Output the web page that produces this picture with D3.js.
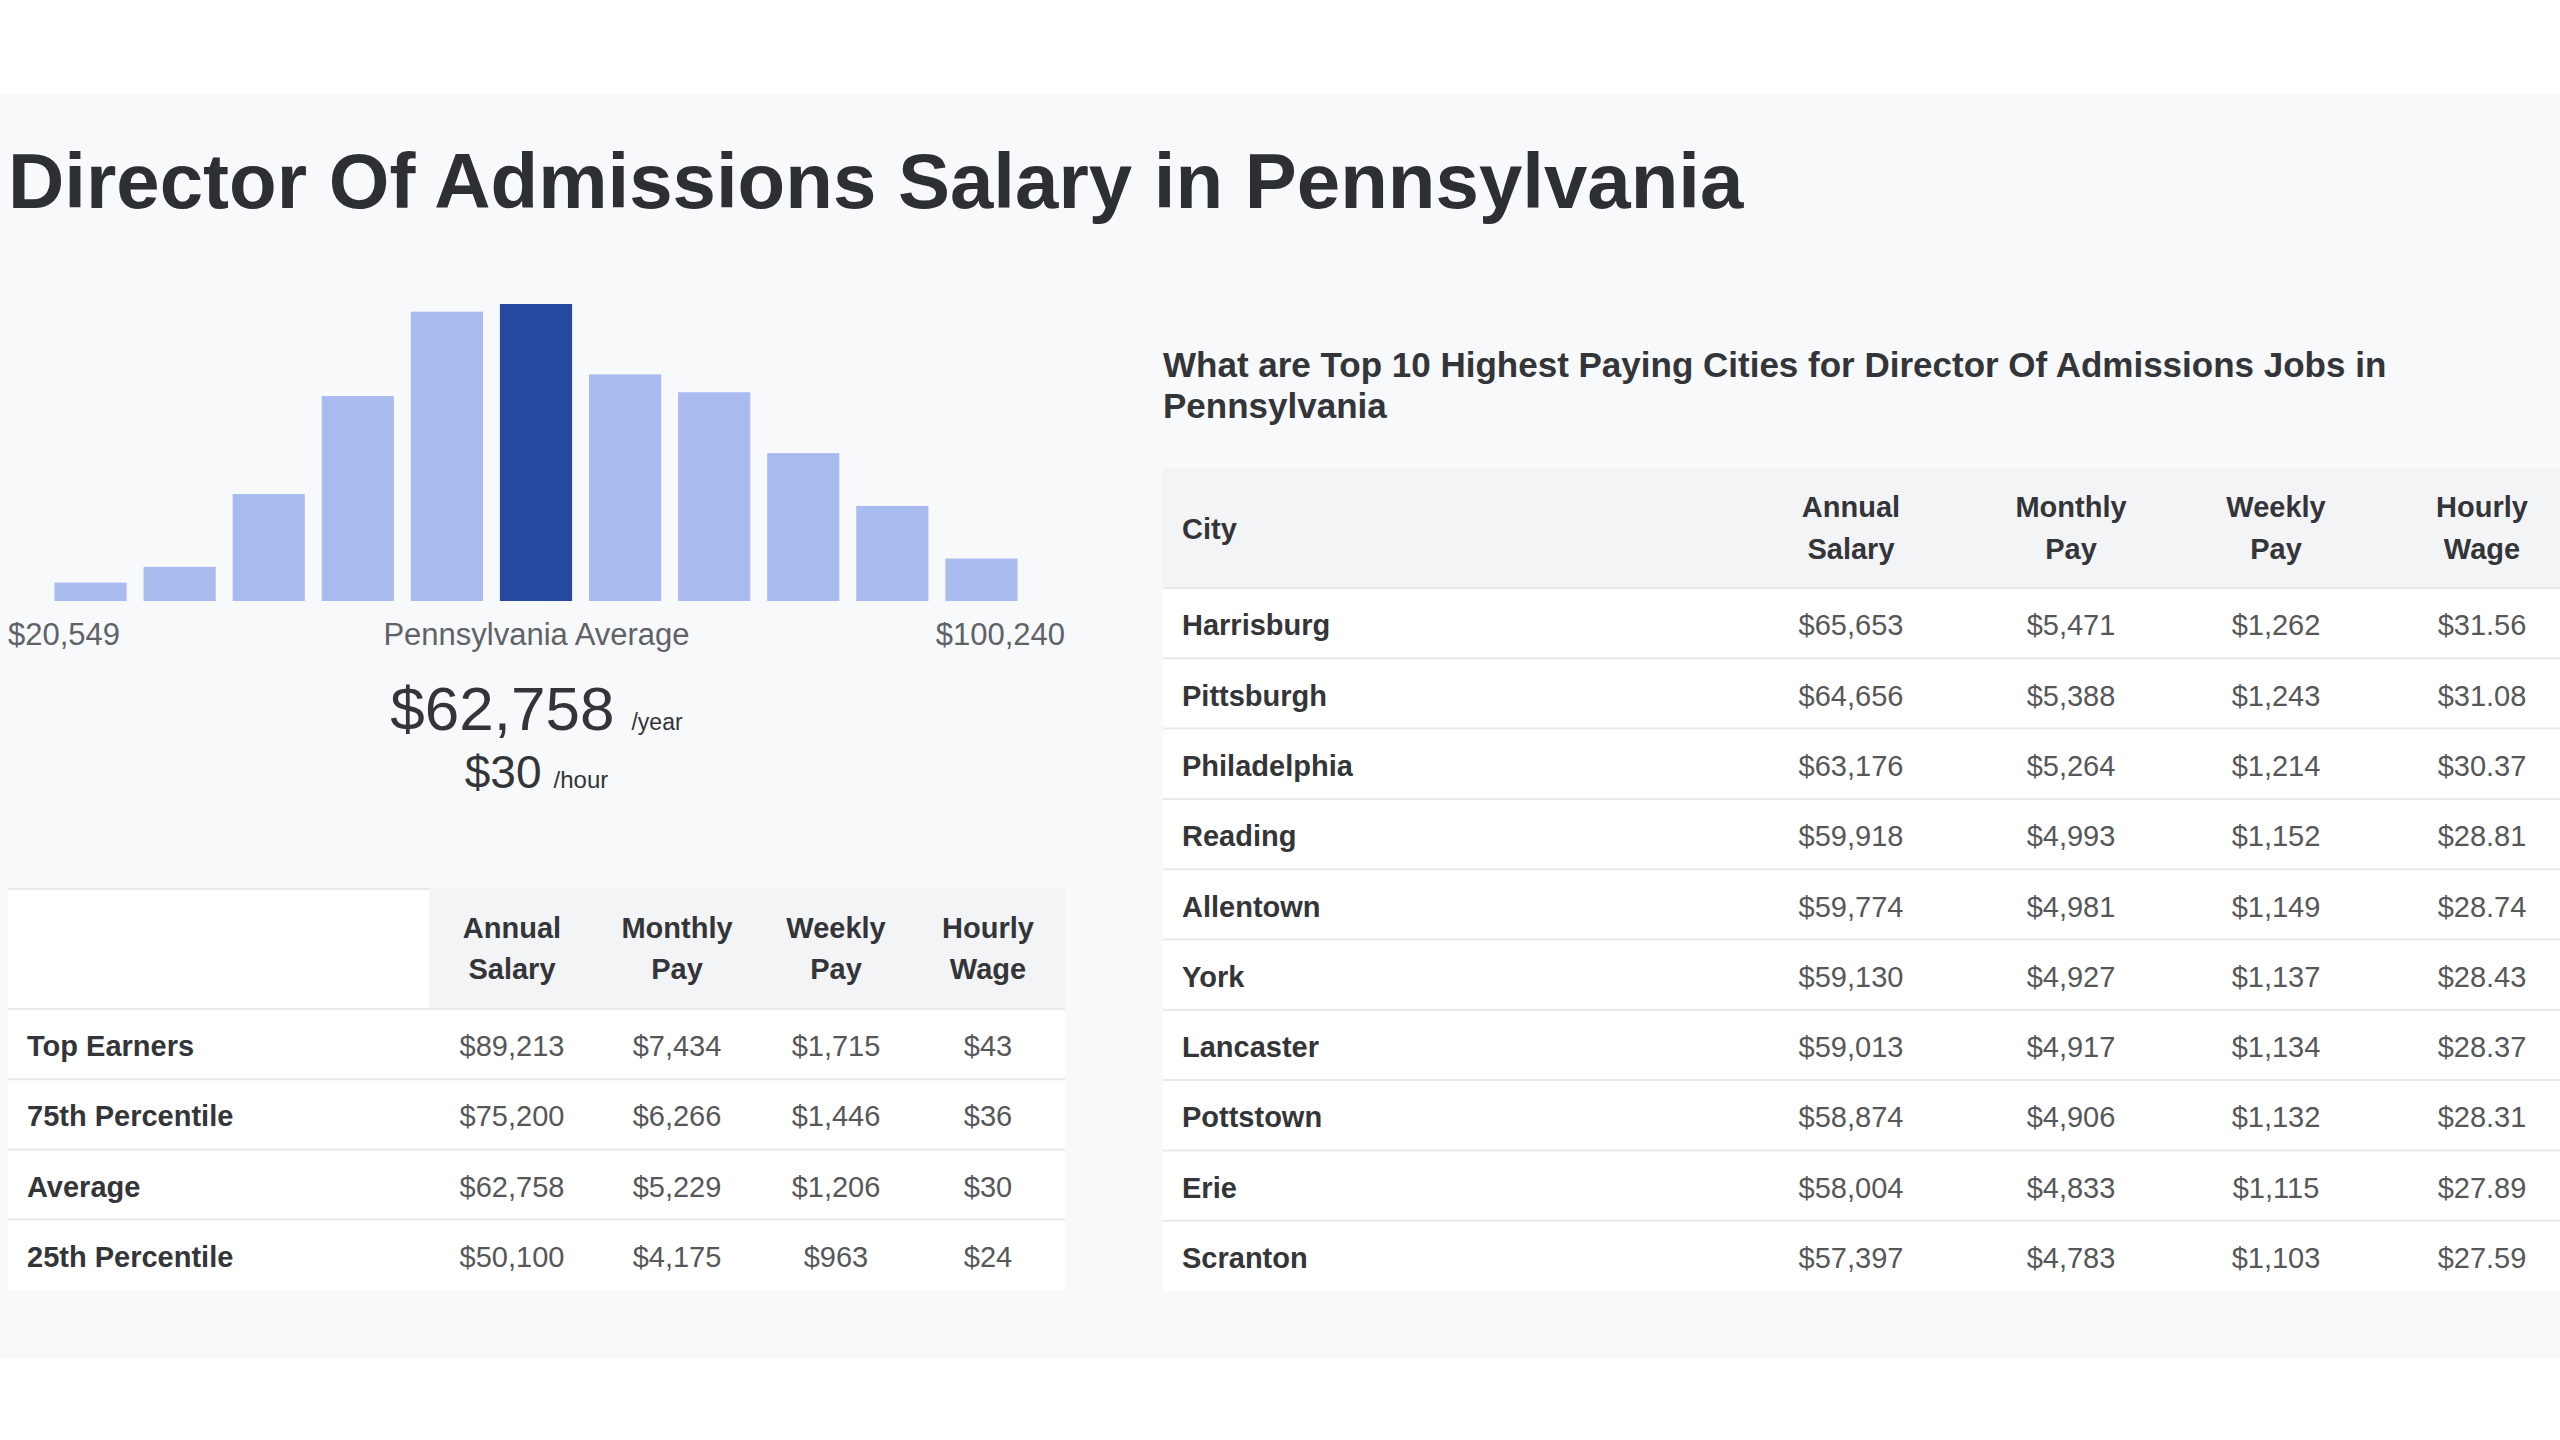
<!DOCTYPE html>
<html>
<head>
<meta charset="utf-8">
<script src="https://cdn.jsdelivr.net/npm/d3@7"></script>
<style>
  html, body { margin: 0; padding: 0; background: #ffffff; }
  svg { display: block; font-family: "Liberation Sans", Arial, Helvetica, sans-serif; }
</style>
</head>
<body>
<svg id="chart" width="2560" height="1440"></svg>
<script>
// ---------- DATA ----------
const pageTitle = "Director Of Admissions Salary in Pennsylvania";
const binValues = [6.2, 11.5, 36.0, 69.0, 97.4, 100, 76.3, 70.3, 49.8, 32.0, 14.3];
const highlightBin = 5;
const rangeMinLabel = "$20,549";
const rangeMaxLabel = "$100,240";
const averageLabel = "Pennsylvania Average";
const averageYear = "$62,758";
const averageHour = "$30";

const summaryHeaders = [["Annual", "Salary"], ["Monthly", "Pay"], ["Weekly", "Pay"], ["Hourly", "Wage"]];
const summaryLabels = ["Top Earners", "75th Percentile", "Average", "25th Percentile"];
const summaryAnnual = ["$89,213", "$75,200", "$62,758", "$50,100"];
const summaryMonthly = ["$7,434", "$6,266", "$5,229", "$4,175"];
const summaryWeekly = ["$1,715", "$1,446", "$1,206", "$963"];
const summaryHourly = ["$43", "$36", "$30", "$24"];

const citiesTitle = ["What are Top 10 Highest Paying Cities for Director Of Admissions Jobs in", "Pennsylvania"];
const cityHeaderFirst = "City";
const cityNames = ["Harrisburg", "Pittsburgh", "Philadelphia", "Reading", "Allentown", "York", "Lancaster", "Pottstown", "Erie", "Scranton"];
const cityAnnual = ["$65,653", "$64,656", "$63,176", "$59,918", "$59,774", "$59,130", "$59,013", "$58,874", "$58,004", "$57,397"];
const cityMonthly = ["$5,471", "$5,388", "$5,264", "$4,993", "$4,981", "$4,927", "$4,917", "$4,906", "$4,833", "$4,783"];
const cityWeekly = ["$1,262", "$1,243", "$1,214", "$1,152", "$1,149", "$1,137", "$1,134", "$1,132", "$1,115", "$1,103"];
const cityHourly = ["$31.56", "$31.08", "$30.37", "$28.81", "$28.74", "$28.43", "$28.37", "$28.31", "$27.89", "$27.59"];

// ---------- STYLE ----------
const C = {
  panel: "#f8f9fb", title: "#2c2f33", text: "#333538", value: "#555759", muted: "#5f6266",
  barLight: "#a9baef", barDark: "#2749a2", headBg: "#f3f4f6", line: "#e7e9ec", white: "#ffffff"
};

const svg = d3.select("#chart");

// page background panel
svg.append("rect").attr("x", 0).attr("y", 94).attr("width", 2560).attr("height", 1265).attr("fill", C.panel);

// title
svg.append("text").attr("x", 8).attr("y", 208)
  .attr("font-size", 78).attr("font-weight", 700).attr("fill", C.title)
  .text(pageTitle);

// ---------- HISTOGRAM ----------
const leftX0 = 8, leftX1 = 1065, leftMid = (leftX0 + leftX1) / 2;
const x = d3.scaleBand().domain(d3.range(binValues.length)).range([46, 1026])
  .paddingInner(0.19).paddingOuter(0.095);
const y = d3.scaleLinear().domain([0, d3.max(binValues)]).range([601, 304]);

svg.append("g").selectAll("rect").data(binValues).join("rect")
  .attr("x", (d, i) => x(i)).attr("width", x.bandwidth())
  .attr("y", d => y(d)).attr("height", d => y(0) - y(d))
  .attr("fill", (d, i) => i === highlightBin ? C.barDark : C.barLight);

svg.append("text").attr("x", leftX0).attr("y", 645).attr("font-size", 31).attr("fill", C.muted).text(rangeMinLabel);
svg.append("text").attr("x", leftX1).attr("y", 645).attr("font-size", 31).attr("fill", C.muted)
  .attr("text-anchor", "end").text(rangeMaxLabel);
svg.append("text").attr("x", leftMid).attr("y", 645).attr("font-size", 31).attr("fill", C.muted)
  .attr("text-anchor", "middle").text(averageLabel);

const avgY = svg.append("text").attr("x", leftMid).attr("y", 730).attr("text-anchor", "middle").attr("fill", C.text);
avgY.append("tspan").attr("font-size", 62).text(averageYear);
avgY.append("tspan").attr("font-size", 23).attr("dx", 17).text("/year");
const avgH = svg.append("text").attr("x", leftMid).attr("y", 788).attr("text-anchor", "middle").attr("fill", C.text);
avgH.append("tspan").attr("font-size", 46).text(averageHour);
avgH.append("tspan").attr("font-size", 24).attr("dx", 12).text("/hour");

// ---------- TABLE HELPER ----------
function drawTable(opts) {
  const g = svg.append("g");
  const fs = 29;
  const rows = d3.scaleBand().domain(d3.range(opts.labels.length))
    .range([opts.headTop + opts.headH, opts.headTop + opts.headH + opts.rowH * opts.labels.length]);
  // header background
  g.append("rect").attr("x", opts.headBgX).attr("y", opts.headTop)
    .attr("width", opts.x1 - opts.headBgX).attr("height", opts.headH).attr("fill", C.headBg);
  if (opts.headBgX > opts.x0) {
    g.append("rect").attr("x", opts.x0).attr("y", opts.headTop)
      .attr("width", opts.headBgX - opts.x0).attr("height", opts.headH).attr("fill", C.white);
    g.append("line").attr("x1", opts.x0).attr("x2", opts.headBgX).attr("y1", opts.headTop + 1).attr("y2", opts.headTop + 1)
      .attr("stroke", C.line).attr("stroke-width", 2);
  }
  // body background
  g.append("rect").attr("x", opts.x0).attr("y", rows.range()[0])
    .attr("width", opts.x1 - opts.x0).attr("height", rows.range()[1] - rows.range()[0]).attr("fill", C.white);
  // separators
  g.selectAll("line.sep").data(d3.range(opts.labels.length)).join("line").attr("class", "sep")
    .attr("x1", opts.x0).attr("x2", opts.x1)
    .attr("y1", i => rows(i)).attr("y2", i => rows(i))
    .attr("stroke", C.line).attr("stroke-width", 2);
  // header texts
  const hc = opts.headTop + opts.headH / 2;
  if (opts.firstHeader) {
    g.append("text").attr("x", opts.labelX).attr("y", hc).attr("dy", "0.38em")
      .attr("font-size", fs).attr("font-weight", 700).attr("fill", C.text).text(opts.firstHeader);
  }
  opts.headers.forEach((h, j) => {
    const t = g.append("text").attr("x", opts.colX[j]).attr("y", hc).attr("text-anchor", "middle")
      .attr("font-size", fs).attr("font-weight", 700).attr("fill", C.text);
    t.append("tspan").attr("x", opts.colX[j]).attr("dy", "-0.37em").text(h[0]);
    t.append("tspan").attr("x", opts.colX[j]).attr("dy", "1.43em").text(h[1]);
  });
  // rows
  opts.labels.forEach((lab, i) => {
    const cy = rows(i) + rows.bandwidth() / 2;
    g.append("text").attr("x", opts.labelX).attr("y", cy).attr("dy", "0.42em")
      .attr("font-size", fs).attr("font-weight", 700).attr("fill", C.text).text(lab);
    opts.cols.forEach((col, j) => {
      g.append("text").attr("x", opts.colX[j]).attr("y", cy).attr("dy", "0.42em")
        .attr("text-anchor", "middle").attr("font-size", fs).attr("fill", C.value).text(col[i]);
    });
  });
}

drawTable({
  x0: 8, x1: 1065, headBgX: 429, headTop: 888, headH: 121, rowH: 70.2,
  labelX: 27, colX: [512, 677, 836, 988],
  headers: summaryHeaders, labels: summaryLabels,
  cols: [summaryAnnual, summaryMonthly, summaryWeekly, summaryHourly]
});

// ---------- CITIES ----------
const ct = svg.append("text").attr("x", 1163).attr("y", 377).attr("font-size", 35)
  .attr("font-weight", 700).attr("fill", C.text);
citiesTitle.forEach((line, i) => {
  ct.append("tspan").attr("x", 1163).attr("dy", i === 0 ? 0 : 41).text(line);
});

drawTable({
  x0: 1163, x1: 2560, headBgX: 1163, headTop: 468, headH: 120, rowH: 70.3,
  labelX: 1182, colX: [1851, 2071, 2276, 2482], firstHeader: cityHeaderFirst,
  headers: summaryHeaders, labels: cityNames,
  cols: [cityAnnual, cityMonthly, cityWeekly, cityHourly]
});
</script>
</body>
</html>
